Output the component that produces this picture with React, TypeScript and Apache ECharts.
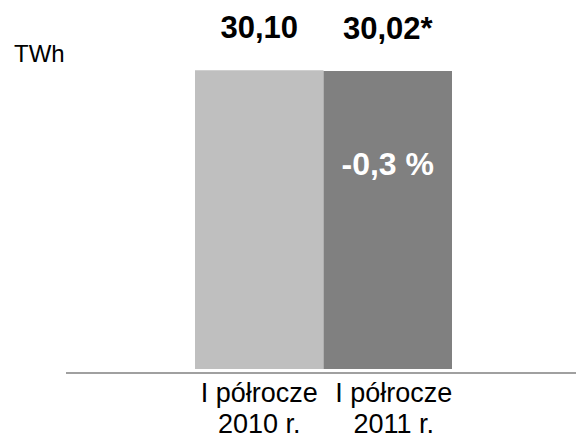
import React, { useEffect, useRef } from "react";
import * as echarts from "echarts";

const categories = ["I półrocze\n2010 r.", "I półrocze\n2011 r."];
const values = [30.1, 30.02];
const valueLabels = ["30,10", "30,02*"];
const barColors = ["#bfbfbf", "#808080"];
const changeLabel = "-0,3 %";
const changeAnchor = [1, 20.6];
const unitLabel = "TWh";

export default function App() {
  const ref = useRef<HTMLDivElement>(null);
  useEffect(() => {
    document.body.style.margin = "0";
    const chart = echarts.init(ref.current!, null, { renderer: "svg" });
    const font = "'Liberation Sans', Arial, sans-serif";
    chart.setOption({
      animation: false,
      backgroundColor: "#ffffff",
      textStyle: { fontFamily: font },
      grid: { left: 195, right: 124, top: 21.5, bottom: 66, containLabel: false },
      xAxis: {
        type: "category",
        data: categories.map((c, i) =>
          i === 1 ? { value: c, textStyle: { padding: [0, 0, 0, 12] } } : c
        ),
        axisLine: { show: false },
        axisTick: { show: false },
        axisLabel: {
          interval: 0,
          hideOverlap: false,
          color: "#000000",
          fontSize: 27,
          lineHeight: 31,
          margin: 8,
          fontFamily: font,
        },
      },
      yAxis: {
        type: "value",
        min: 0,
        max: 35,
        show: false,
        splitLine: { show: false },
      },
      graphic: [
        {
          type: "line",
          shape: { x1: 66, y1: 373, x2: 576, y2: 373 },
          style: { stroke: "#808080", lineWidth: 1.5 },
          silent: true,
        },
        {
          type: "text",
          left: 14,
          top: 41,
          style: { text: unitLabel, fill: "#000000", font: `24px ${font}` },
        },
      ],
      series: [
        {
          type: "bar",
          barCategoryGap: "0%",
          data: values.map((v, i) => ({
            value: v,
            itemStyle: { color: barColors[i] },
            label: { formatter: valueLabels[i] },
          })),
          label: {
            show: true,
            position: "top",
            distance: 27,
            color: "#000000",
            fontSize: 31,
            fontWeight: "bold",
            fontFamily: font,
          },
        },
        {
          type: "scatter",
          symbolSize: 0,
          itemStyle: { opacity: 1 },
          data: [changeAnchor],
          label: {
            show: true,
            position: "inside",
            formatter: changeLabel,
            color: "#ffffff",
            opacity: 1,
            fontSize: 32,
            fontWeight: "bold",
            fontFamily: font,
          },
          silent: true,
        },
      ],
    });
    return () => chart.dispose();
  }, []);
  return <div ref={ref} style={{ width: 576, height: 439 }} />;
}
